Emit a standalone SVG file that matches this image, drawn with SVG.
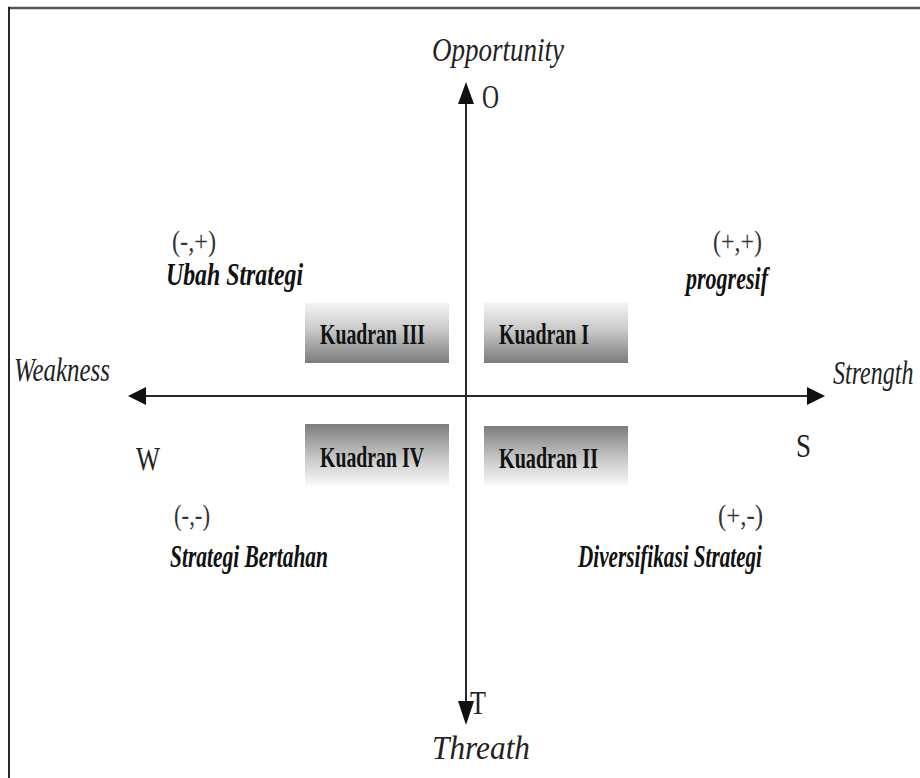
<svg xmlns="http://www.w3.org/2000/svg" width="920" height="778" viewBox="0 0 920 778">
<defs>
<linearGradient id="gDown" x1="0" y1="0" x2="0" y2="1">
<stop offset="0" stop-color="#f4f4f4"/>
<stop offset="0.45" stop-color="#c8c8c8"/>
<stop offset="1" stop-color="#7c7c7c"/>
</linearGradient>
<linearGradient id="gUp" x1="0" y1="0" x2="0" y2="1">
<stop offset="0" stop-color="#7c7c7c"/>
<stop offset="0.55" stop-color="#c8c8c8"/>
<stop offset="1" stop-color="#fafafa"/>
</linearGradient>
<style>
.ax{stroke:#2a2a2a;stroke-width:2;fill:none}
.head{fill:#111}
.lbl{font-family:"Liberation Serif",serif;font-style:italic;font-size:33px;fill:#222}
.let{font-family:"Liberation Serif",serif;font-size:33px;fill:#222}
.sign{font-family:"Liberation Serif",serif;font-size:29px;fill:#333}
.strat{font-family:"Liberation Serif",serif;font-style:italic;font-weight:bold;font-size:31px;fill:#111}
.kq{font-family:"Liberation Serif",serif;font-weight:bold;font-size:30px;fill:#111}
</style>
</defs>
<rect width="920" height="778" fill="#fff"/>
<line x1="8" y1="8" x2="920" y2="8" stroke="#555" stroke-width="2.5"/>
<line x1="9" y1="7" x2="9" y2="778" stroke="#111" stroke-width="1.8"/>

<g id="connectors">
<line class="ax" x1="466" y1="100" x2="466" y2="705"/>
<polygon class="head" points="466,82 458,104 474,104"/>
<polygon class="head" points="466,725 458,701 474,701"/>
<line class="ax" x1="143" y1="396" x2="810" y2="396"/>
<polygon class="head" points="128,396 146,387 146,405"/>
<polygon class="head" points="825,396 807,387 807,405"/>
</g>

<g id="axis-labels">
<text class="lbl" x="432" y="61" textLength="132" lengthAdjust="spacingAndGlyphs">Opportunity</text>
<text class="let" x="482" y="108" textLength="17" lengthAdjust="spacingAndGlyphs">O</text>
<text class="lbl" x="14" y="381" textLength="96" lengthAdjust="spacingAndGlyphs">Weakness</text>
<text class="let" x="136" y="470" textLength="24" lengthAdjust="spacingAndGlyphs">W</text>
<text class="lbl" transform="translate(833,384) scale(1,1.38)" x="0" y="0" style="font-size:24px">Strength</text>
<text class="let" x="796" y="457" textLength="15" lengthAdjust="spacingAndGlyphs">S</text>
<text class="let" x="470" y="714" textLength="16" lengthAdjust="spacingAndGlyphs">T</text>
<text class="lbl" x="432" y="759" textLength="98" lengthAdjust="spacingAndGlyphs">Threath</text>
</g>

<g id="kuadran-iii">
<rect x="305" y="303" width="144" height="60" fill="url(#gDown)"/>
<text class="kq" x="320" y="344" textLength="105" lengthAdjust="spacingAndGlyphs">Kuadran III</text>
</g>
<g id="kuadran-i">
<rect x="484" y="303" width="144" height="60" fill="url(#gDown)"/>
<text class="kq" x="499" y="344" textLength="90" lengthAdjust="spacingAndGlyphs">Kuadran I</text>
</g>
<g id="kuadran-iv">
<rect x="305" y="424" width="144" height="62" fill="url(#gUp)"/>
<text class="kq" x="320" y="467" textLength="104" lengthAdjust="spacingAndGlyphs">Kuadran IV</text>
</g>
<g id="kuadran-ii">
<rect x="484" y="426" width="144" height="60" fill="url(#gUp)"/>
<text class="kq" x="499" y="468" textLength="99" lengthAdjust="spacingAndGlyphs">Kuadran II</text>
</g>

<g id="q-ubah">
<text class="sign" x="172" y="251" textLength="44" lengthAdjust="spacingAndGlyphs">(-,+)</text>
<text class="strat" x="166" y="285" textLength="137" lengthAdjust="spacingAndGlyphs">Ubah Strategi</text>
</g>
<g id="q-progresif">
<text class="sign" x="713" y="251" textLength="49" lengthAdjust="spacingAndGlyphs">(+,+)</text>
<text class="strat" x="686" y="289" textLength="82" lengthAdjust="spacingAndGlyphs">progresif</text>
</g>
<g id="q-bertahan">
<text class="sign" x="174" y="525" textLength="36" lengthAdjust="spacingAndGlyphs">(-,-)</text>
<text class="strat" x="170" y="567" textLength="158" lengthAdjust="spacingAndGlyphs">Strategi Bertahan</text>
</g>
<g id="q-diversifikasi">
<text class="sign" x="718" y="525" textLength="45" lengthAdjust="spacingAndGlyphs">(+,-)</text>
<text class="strat" x="578" y="567" textLength="184" lengthAdjust="spacingAndGlyphs">Diversifikasi Strategi</text>
</g>
</svg>
